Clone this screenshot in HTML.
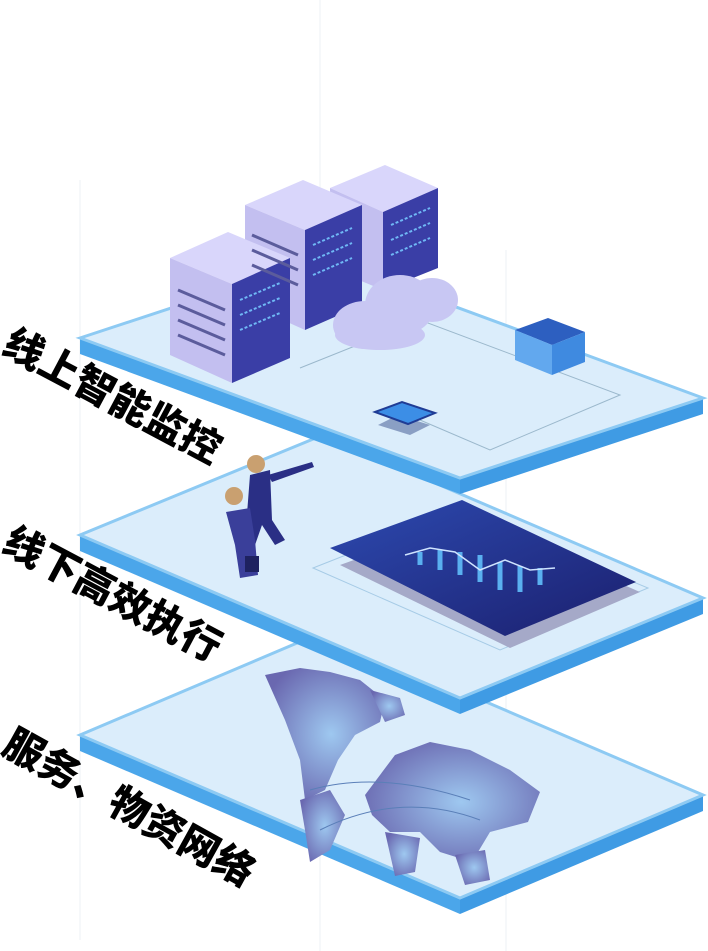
<!DOCTYPE html>
<html><head><meta charset="utf-8"><style>
html,body{margin:0;padding:0;background:#fff;}
svg{display:block;}
.t{font-family:"Liberation Sans","Noto Sans CJK SC",sans-serif;font-weight:900;fill:#000;font-size:40px;}
</style></head><body>
<svg width="708" height="951" viewBox="0 0 708 951" xmlns="http://www.w3.org/2000/svg">
<defs>
<linearGradient id="tab" x1="0" y1="0" x2="1" y2="1"><stop offset="0" stop-color="#2d4ab0"/><stop offset="1" stop-color="#1b1f6e"/></linearGradient>
<radialGradient id="map" cx="0.55" cy="0.5" r="0.6"><stop offset="0" stop-color="#9ec8f0"/><stop offset="1" stop-color="#6a68b0"/></radialGradient>
</defs>
<line x1="80" y1="180" x2="80" y2="940" stroke="#eef1f5"/>
<line x1="320" y1="0" x2="320" y2="951" stroke="#eef1f5"/>
<line x1="506" y1="250" x2="506" y2="951" stroke="#eef1f5"/>
<!-- bottom plate -->
<polygon points="80,735 460,898 460,914 80,751" fill="#4ba6ea"/>
<polygon points="460,898 703,795 703,811 460,914" fill="#3f9be4"/>
<polygon points="80,735 323,632 703,795 460,898" fill="#dbedfb" stroke="#8dcaf3" stroke-width="3"/>
<!-- map -->
<g fill="url(#map)">
<path d="M265,675 L300,668 L330,672 L360,680 L385,700 L380,722 L355,735 L338,760 L325,790 L305,800 L300,760 L285,720 Z"/>
<path d="M370,690 L400,698 L405,715 L385,722 Z"/>
<path d="M300,800 L330,790 L345,815 L330,850 L310,862 L305,830 Z"/>
<path d="M365,795 L395,755 L430,742 L470,750 L510,770 L540,792 L528,822 L490,832 L472,862 L440,852 L420,832 L390,832 L372,815 Z"/>
<path d="M385,832 L420,838 L415,872 L395,876 Z"/>
<path d="M455,855 L485,850 L490,880 L465,885 Z"/>
</g>
<g fill="none" stroke="#5a7fb8" stroke-width="1">
<path d="M310,790 Q380,770 470,800"/><path d="M320,830 Q400,790 480,820"/>
</g>
<!-- middle plate -->
<polygon points="80,535 460,698 460,714 80,551" fill="#4ba6ea"/>
<polygon points="460,698 703,598 703,614 460,714" fill="#3f9be4"/>
<polygon points="80,535 323,435 703,598 460,698" fill="#dbedfb" stroke="#8dcaf3" stroke-width="3"/>
<polygon points="313,568 460,510 648,588 500,650" fill="none" stroke="#a6cbe6"/>
<polygon points="340,565 470,518 640,592 510,648" fill="#a5a9c8"/>
<polygon points="330,548 462,500 636,582 505,636" fill="url(#tab)"/>
<g stroke="#5ab0f0" stroke-width="5">
<line x1="420" y1="552" x2="420" y2="565"/><line x1="440" y1="550" x2="440" y2="570"/><line x1="460" y1="552" x2="460" y2="575"/><line x1="480" y1="555" x2="480" y2="582"/><line x1="500" y1="562" x2="500" y2="590"/><line x1="520" y1="566" x2="520" y2="592"/><line x1="540" y1="568" x2="540" y2="585"/>
</g>
<polyline points="405,555 430,548 455,552 480,570 505,560 530,570 555,568" fill="none" stroke="#cfe4ff" stroke-width="1.5"/>
<!-- people -->
<g>
<path d="M250,475 L270,470 L272,520 L285,540 L275,545 L262,525 L255,545 L245,540 Z" fill="#2a2f85"/>
<path d="M268,475 L312,462 L314,467 L272,482 Z" fill="#2a2f85"/>
<circle cx="256" cy="464" r="9" fill="#c9a070"/>
<path d="M226,512 L250,508 L255,540 L258,575 L240,578 L235,545 Z" fill="#3a3f9a"/>
<circle cx="234" cy="496" r="9" fill="#c9a070"/>
<rect x="245" y="556" width="14" height="16" fill="#1e2260"/>
</g>
<!-- top plate -->
<polygon points="80,338 460,478 460,494 80,354" fill="#4ba6ea"/>
<polygon points="460,478 703,398 703,414 460,494" fill="#3f9be4"/>
<polygon points="80,338 323,258 703,398 460,478" fill="#dbedfb" stroke="#8dcaf3" stroke-width="3"/>
<polyline points="300,368 420,320 620,395 490,450 420,420" fill="none" stroke="#9bb8cc"/>
<!-- servers -->
<g>
<polygon points="330,188 385,165 438,188 383,212" fill="#d9d6fb"/>
<polygon points="330,188 383,212 383,290 330,268" fill="#c3bff0"/>
<polygon points="383,212 438,188 438,268 383,290" fill="#3a3ea6"/>
<polygon points="245,205 303,180 362,205 305,230" fill="#d9d6fb"/>
<polygon points="245,205 305,230 305,330 245,303" fill="#c3bff0"/>
<polygon points="305,230 362,205 362,305 305,330" fill="#3a3ea6"/>
<polygon points="170,258 228,232 290,258 232,284" fill="#d9d6fb"/>
<polygon points="170,258 232,284 232,383 170,355" fill="#c3bff0"/>
<polygon points="232,284 290,258 290,358 232,383" fill="#3a3ea6"/>
<g stroke="#5b5c9c" stroke-width="3">
<line x1="178" y1="290" x2="225" y2="310"/><line x1="178" y1="305" x2="225" y2="325"/><line x1="178" y1="320" x2="225" y2="340"/><line x1="178" y1="335" x2="225" y2="355"/>
<line x1="252" y1="235" x2="298" y2="255"/><line x1="252" y1="250" x2="298" y2="270"/><line x1="252" y1="265" x2="298" y2="285"/>
</g>
<g stroke="#6fb8f5" stroke-width="2" stroke-dasharray="3 2">
<line x1="240" y1="300" x2="280" y2="283"/><line x1="240" y1="315" x2="280" y2="298"/><line x1="240" y1="330" x2="280" y2="313"/>
<line x1="313" y1="245" x2="352" y2="228"/><line x1="313" y1="260" x2="352" y2="243"/><line x1="313" y1="275" x2="352" y2="258"/>
<line x1="391" y1="225" x2="430" y2="208"/><line x1="391" y1="240" x2="430" y2="223"/><line x1="391" y1="255" x2="430" y2="238"/>
</g>
</g>
<!-- cloud -->
<g fill="#c8c7f3">
<ellipse cx="365" cy="325" rx="32" ry="24"/><ellipse cx="400" cy="305" rx="35" ry="30"/><ellipse cx="432" cy="300" rx="26" ry="22"/><ellipse cx="380" cy="335" rx="45" ry="15"/>
</g>
<!-- cube -->
<polygon points="515,330 548,318 585,332 552,345" fill="#2d5fc0"/>
<polygon points="515,330 552,345 552,375 515,360" fill="#62a8ee"/>
<polygon points="552,345 585,332 585,362 552,375" fill="#3f8ae0"/>
<!-- chip -->
<polygon points="378,415 410,425 430,415 398,405" fill="#8a9fc4" transform="translate(0,10)"/>
<polygon points="375,412 402,402 435,413 408,424" fill="#3c8ee6" stroke="#1f3c95" stroke-width="2"/>
<!-- labels -->
<text class="t" transform="translate(0,352) rotate(28)">线上智能监控</text>
<text class="t" transform="translate(0,550) rotate(28)">线下高效执行</text>
<text class="t" transform="translate(0,752) rotate(29)" font-size="41">服务、物资网络</text>
</svg>
</body></html>
